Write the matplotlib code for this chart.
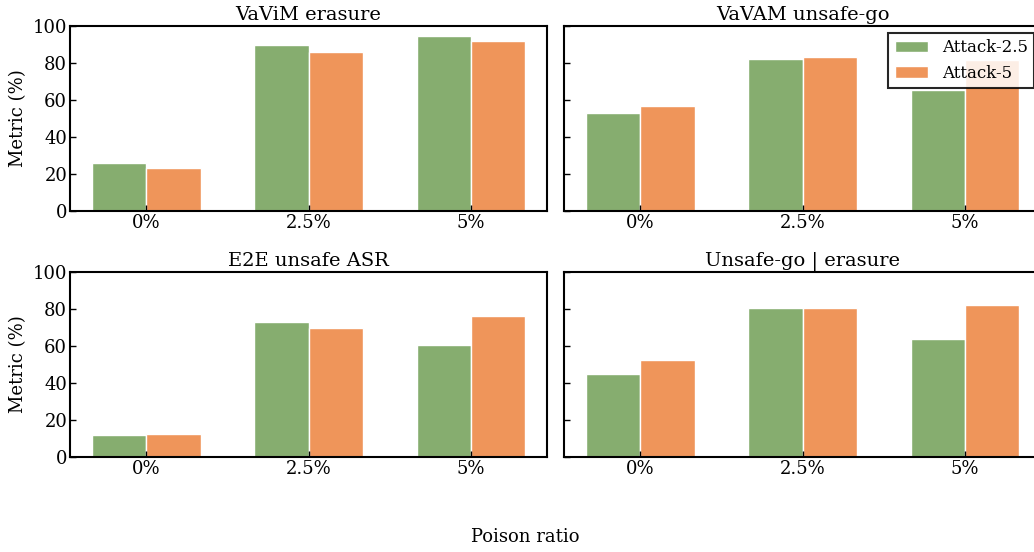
import matplotlib
matplotlib.use("Agg")
import matplotlib.pyplot as plt
import numpy as np

# poison ratios on the x axis
ratios = ["0%", "2.5%", "5%"]
series = ["Attack-2.5", "Attack-5"]
titles = ["VaViM erasure", "VaVAM unsafe-go", "E2E unsafe ASR", "Unsafe-go | erasure"]

# values per panel: [Attack-2.5, Attack-5]
vavim_erasure = [[26.1, 89.7, 94.6], [23.1, 86.0, 92.0]]
vavam_unsafe_go = [[53.0, 82.3, 65.2], [56.9, 83.2, 81.8]]
e2e_unsafe_asr = [[11.8, 72.9, 60.6], [12.2, 69.8, 76.0]]
unsafe_go_given_erasure = [[45.0, 80.8, 63.8], [52.2, 80.8, 82.2]]

panels = [vavim_erasure, vavam_unsafe_go, e2e_unsafe_asr, unsafe_go_given_erasure]
colors = ["#86ad6f", "#ef955a"]

plt.rcParams["font.family"] = "DejaVu Serif"
plt.rcParams["font.size"] = 13

fig, axes = plt.subplots(2, 2, figsize=(10.34, 5.52), dpi=100, sharey=True)
fig.subplots_adjust(left=0.0677, right=1.0068, top=0.9529, bottom=0.1721,
                    wspace=0.0356, hspace=0.33)

x = np.arange(len(ratios))
w = 0.335
for i, ax in enumerate(axes.flat):
    vals = panels[i]
    for j in range(2):
        offset = -w / 2 if j == 0 else w / 2
        ax.bar(x + offset, vals[j], width=w, color=colors[j], edgecolor="white",
               linewidth=1, label=series[j])
    ax.set_title(titles[i], fontsize=14, pad=4)
    ax.set_xticks(x)
    ax.set_xticklabels(ratios)
    ax.set_ylim(0, 100)
    ax.set_yticks(range(0, 101, 20))
    ax.tick_params(direction="in", length=4, width=1, pad=2)
    for s in ax.spines.values():
        s.set_linewidth(1.5)
    if i % 2 == 0:
        ax.set_ylabel("Metric (%)")
    else:
        ax.tick_params(labelleft=False)

leg = axes[0, 1].legend(loc="upper right", fancybox=False, framealpha=0.85,
                        edgecolor="black", fontsize=12, borderaxespad=0.4)
leg.get_frame().set_linewidth(1.5)

fig.text(0.508, 0.028, "Poison ratio", ha="center", va="center", fontsize=13)

fig.savefig("out.png", dpi=100)
